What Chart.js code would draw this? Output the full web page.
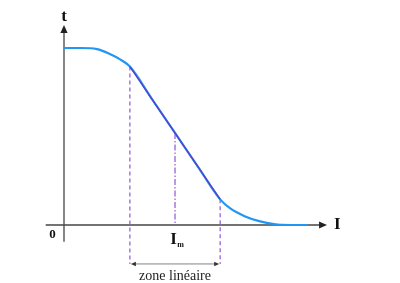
<!DOCTYPE html>
<html>
<head>
<meta charset="utf-8">
<script src="https://cdn.jsdelivr.net/npm/chart.js@4"></script>
<style>
html,body{margin:0;padding:0;background:#fff;}
#wrap{width:400px;height:283px;position:relative;}
</style>
</head>
<body>
<div id="wrap"><canvas id="c" width="400" height="283"></canvas></div>
<script>
// ---- data ----
const curveI = [0, 0.7, 1.35, 1.9, 2.3, 2.7, 3.6, 4.55, 5.5, 6.4, 6.8, 7.4, 8.0, 8.6, 9.3, 10];
const curveT = [10, 10, 9.94, 9.65, 9.36, 8.95, 7.13, 5.2, 3.27, 1.45, 0.95, 0.5, 0.22, 0.05, 0, 0];
const linearI = [2.7, 6.4];
const linearT = [8.95, 1.45];
const markI = [2.7, 4.55, 6.4];       // I1, Im, I2
const markT = [8.95, 5.2, 1.45];
const zoneY = -2.2;                    // level of the "zone linéaire" arrow
const axisLabels = {t: 't', I: 'I', zero: '0', Im: 'I', ImSub: 'm', zone: 'zone linéaire'};

const pts = (xs, ys) => xs.map((x, i) => ({x, y: ys[i]}));

const purple = '#9b63d6';
const datasets = [
  {data: pts(curveI, curveT), borderColor: '#2196f3', borderWidth: 2.2, cubicInterpolationMode: 'monotone', pointRadius: 0, clip: false, order: 2},
  {data: pts(linearI, linearT), borderColor: '#5a3fc8', borderWidth: 1.4, pointRadius: 0, clip: false, order: 1},
  {data: [{x: markI[0], y: markT[0]}, {x: markI[0], y: zoneY}], borderColor: purple, borderWidth: 1.3, borderDash: [4, 3], pointRadius: 0, clip: false, order: 3},
  {data: [{x: markI[1], y: markT[1]}, {x: markI[1], y: 0}], borderColor: purple, borderWidth: 1.3, borderDash: [6, 2, 1.5, 2], pointRadius: 0, clip: false, order: 3},
  {data: [{x: markI[2], y: markT[2]}, {x: markI[2], y: zoneY}], borderColor: purple, borderWidth: 1.3, borderDash: [4, 3], pointRadius: 0, clip: false, order: 3}
];

function arrowHead(ctx, x, y, dir, size) {
  ctx.beginPath();
  if (dir === 'up') { ctx.moveTo(x, y); ctx.lineTo(x - size * 0.45, y + size); ctx.lineTo(x + size * 0.45, y + size); }
  else if (dir === 'right') { ctx.moveTo(x, y); ctx.lineTo(x - size, y - size * 0.45); ctx.lineTo(x - size, y + size * 0.45); }
  else { ctx.moveTo(x, y); ctx.lineTo(x + size, y - size * 0.45); ctx.lineTo(x + size, y + size * 0.45); }
  ctx.closePath();
  ctx.fill();
}

const axesPlugin = {
  id: 'axesPlugin',
  beforeDatasetsDraw(chart) {
    const {ctx, scales: {x, y}} = chart;
    const x0 = x.getPixelForValue(0), y0 = y.getPixelForValue(0);
    ctx.save();
    ctx.strokeStyle = '#444'; ctx.fillStyle = '#222'; ctx.lineWidth = 1.3;
    const yTop = y.getPixelForValue(11.3), yBot = y.getPixelForValue(-0.95);
    ctx.beginPath(); ctx.moveTo(x0, yBot); ctx.lineTo(x0, yTop + 6); ctx.stroke();
    arrowHead(ctx, x0, yTop, 'up', 8);
    const xL = x.getPixelForValue(-0.75), xR = x.getPixelForValue(10.78);
    ctx.beginPath(); ctx.moveTo(xL, y0); ctx.lineTo(xR - 6, y0); ctx.stroke();
    arrowHead(ctx, xR, y0, 'right', 8);
    ctx.restore();
  },
  afterDatasetsDraw(chart) {
    const {ctx, scales: {x, y}} = chart;
    const x0 = x.getPixelForValue(0), y0 = y.getPixelForValue(0);
    ctx.save();
    ctx.fillStyle = '#111';
    ctx.textAlign = 'center'; ctx.textBaseline = 'middle';
    ctx.font = 'bold 17px "Liberation Serif"';
    ctx.fillText(axisLabels.t, x0, y.getPixelForValue(11.75));
    ctx.fillText(axisLabels.I, x.getPixelForValue(11.2), y0);
    ctx.font = 'bold 13px "Liberation Serif"';
    ctx.fillText(axisLabels.zero, x.getPixelForValue(-0.47), y0 + 10);
    const xm = x.getPixelForValue(markI[1]);
    ctx.font = 'bold 17px "Liberation Serif"';
    ctx.fillText(axisLabels.Im, xm - 1.5, y0 + 14.5);
    ctx.font = 'bold 8px "Liberation Serif"';
    ctx.fillText(axisLabels.ImSub, xm + 5.5, y0 + 20);
    const xa = x.getPixelForValue(markI[0]), xb = x.getPixelForValue(markI[2]);
    const ya = y.getPixelForValue(zoneY);
    ctx.strokeStyle = '#666'; ctx.fillStyle = '#333'; ctx.lineWidth = 0.8;
    ctx.beginPath(); ctx.moveTo(xa + 3, ya); ctx.lineTo(xb - 3, ya); ctx.stroke();
    arrowHead(ctx, xa + 1, ya, 'left', 5);
    arrowHead(ctx, xb - 1, ya, 'right', 5);
    ctx.fillStyle = '#222';
    ctx.font = '14px "Liberation Serif"';
    ctx.fillText(axisLabels.zone, (xa + xb) / 2, ya + 12);
    ctx.restore();
  }
};

new Chart(document.getElementById('c'), {
  type: 'line',
  data: {datasets},
  options: {
    responsive: false,
    animation: false,
    parsing: false,
    layout: {padding: {left: 64, right: 92, top: 48, bottom: 58}},
    plugins: {legend: {display: false}, tooltip: {enabled: false}},
    scales: {
      x: {type: 'linear', min: 0, max: 10, display: false},
      y: {type: 'linear', min: 0, max: 10, display: false}
    }
  },
  plugins: [axesPlugin]
});
</script>
</body>
</html>
